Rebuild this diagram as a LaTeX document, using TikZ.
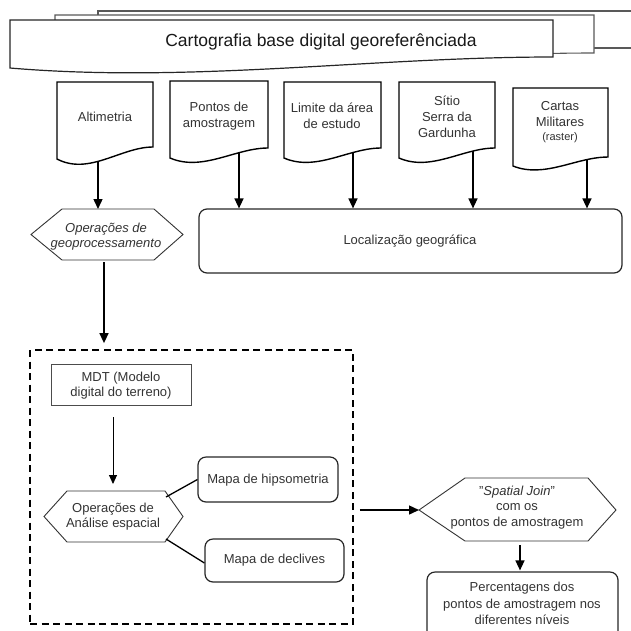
\documentclass[tikz,border=0pt]{standalone}
\usepackage{fontspec}
\setmainfont{Liberation Sans}
\usetikzlibrary{arrows.meta,backgrounds}
\newcommand\docshape[5]{% x1, top, x2, yleft, yright
  \draw[docbox] (#1,#2) -- (#3,#2) -- (#3,#5)
    .. controls ({#1+2*(#3-#1)/3},#5) and ({#1+(#3-#1)/3},{#4+1.4*(#4-#5)}) .. (#1,#4) -- cycle;}
\newcommand\sheetshape[6]{% style, x1, top, x2, yleft, yright
  \draw[#1] (#2,#3) -- (#4,#3) -- (#4,#6)
    .. controls ({#2+2*(#4-#2)/3},#6) and ({#2+(#4-#2)/3},{#5+1.4*(#5-#6)}) .. (#2,#5) -- cycle;}
\begin{document}
\begin{tikzpicture}[x=1pt,y=-1pt,
  sheet/.style={draw=black!65, line width=1.1pt, fill=white},
  frontsheet/.style={draw=black!85, line width=1.2pt, fill=white},
  docbox/.style={draw=black, line width=1.4pt, fill=white},
  arr/.style={line width=1.4pt, -{Triangle[length=10pt,width=9pt]}},
  thinarr/.style={line width=0.9pt, -{Triangle[length=9pt,width=8pt]}},
  hexst/.style={draw=black!80, line width=0.9pt, fill=white},
  rbox/.style={draw=black!85, line width=1.2pt, rounded corners=8pt, inner sep=0pt},
  txt/.style={font=\fontsize{13}{16}\selectfont, align=center, inner sep=0pt, text=black!80},
  small/.style={font=\fontsize{10}{12}\selectfont},
  link/.style={line width=1.3pt}]
\useasboundingbox (0,0) rectangle (631,630);

% stacked sheets (multidocument)
\draw[sheet] (98,11) -- (645,11) -- (645,48) -- (98,48) -- cycle;
\sheetshape{sheet}{55}{15}{594}{64}{53}
\sheetshape{frontsheet}{10}{20}{553}{68}{57}
\node[txt, text=black!90, font=\fontsize{17.5}{20}\selectfont] (cart) at (321,42) {Cartografia base digital georeferênciada};

% documents
\docshape{57}{82}{153}{159}{147}
\docshape{170}{81}{268}{158}{148}
\docshape{284}{82}{381}{158}{148}
\docshape{399}{82}{495}{158}{148}
\docshape{513}{88}{608}{166}{157}
\node[txt] (alt) at (105,117) {Altimetria};
\node[txt] (pon) at (219,116) {Pontos de\\amostragem};
\node[txt] (lim) at (332,116) {Limite da área\\de estudo};
\node[txt] (sit) at (447,117) {Sítio\\Serra da\\Gardunha};
\node[txt] (car) at (560,122) {Cartas\\Militares\\[-2pt]{\fontsize{11}{12}\selectfont(raster)}};
\coordinate (altb) at (98,156);
\coordinate (ponb) at (239,145);
\coordinate (limb) at (353,145);
\coordinate (sitb) at (473,145);
\coordinate (carb) at (587,154);

% localizacao
\node[rbox, minimum width=423pt, minimum height=64pt] (loc) at (410.5,241) {};
\node[txt] (loct) at (410,241) {Localização geográfica};

% hex 1
\draw[hexst] (31,234.5) -- (62,209) -- (154,209) -- (183,234.5) -- (154,260) -- (62,260) -- cycle;
\node[txt, font=\itshape\fontsize{13}{15}\selectfont] (geo) at (106,236.5) {Operações de\\geoprocessamento};
\coordinate (geotop) at (98,209);
\coordinate (geob) at (104,262);

% dashed frame
\node[draw=black, line width=1.8pt, dash pattern=on 7pt off 4.5pt, minimum width=323pt, minimum height=274pt, inner sep=0pt] (frame) at (191.5,487) {};

% MDT
\node[draw=black!70, line width=1pt, minimum width=140pt, minimum height=41pt, inner sep=0pt] (mdt) at (121,384.5) {};
\node[txt, font=\fontsize{13}{15}\selectfont] (mdtt) at (121,385.5) {MDT (Modelo\\digital do terreno)};
\coordinate (mdtb) at (113,417);
\coordinate (anat) at (113,484);

% hex 2
\draw[hexst] (44,516.5) -- (67,491) -- (165,491) -- (183,516.5) -- (165,542) -- (67,542) -- cycle;
\node[txt, font=\fontsize{13}{15}\selectfont] (ana) at (113,516.5) {Operações de\\Análise espacial};
\coordinate (anane) at (166,497);
\coordinate (anase) at (166,539);

% maps
\node[rbox, minimum width=140pt, minimum height=45pt] (hip) at (268,479.5) {};
\node[txt] (hipt) at (268,480) {Mapa de hipsometria};
\node[rbox, minimum width=139pt, minimum height=43pt] (dec) at (274.5,560.5) {};
\node[txt] (dect) at (274.5,560.5) {Mapa de declives};
\draw[link] (anane) -- (hip.west);
\draw[link] (anase) -- ([yshift=-2.5pt]dec.west);

% spatial join hex
\draw[hexst] (419,510) -- (465,478) -- (588,478) -- (616,510) -- (588,541) -- (465,541) -- cycle;
\node[txt, font=\fontsize{13}{15.5}\selectfont] (sj) at (517,507.5) {"\textit{Spatial Join}"\\com os\\pontos de amostragem};
\coordinate (sjw) at (419,510);
\coordinate (sjb) at (520,545);

% percentagens
\node[rbox, minimum width=191pt, minimum height=76pt] (percbox) at (522.5,610) {};
\node[txt, font=\fontsize{13}{16.5}\selectfont] (perc) at (522,603.5) {Percentagens dos\\pontos de amostragem nos\\diferentes níveis};

% connectors
\begin{scope}[on background layer]
\draw[arr] (altb) -- (geotop);
\draw[arr] (ponb) -- (ponb |- loc.north);
\draw[arr] (limb) -- (limb |- loc.north);
\draw[arr] (sitb) -- (sitb |- loc.north);
\draw[arr] (carb) -- (carb |- loc.north);
\end{scope}
\draw[arr, shorten >=6pt] (geob) -- (geob |- frame.north);
\draw[thinarr] (mdtb) -- (anat);
\draw[arr, shorten <=6pt] (frame.east |- sjw) -- (sjw);
\draw[arr, shorten >=1pt] (sjb) -- (sjb |- percbox.north);
\end{tikzpicture}
\end{document}
